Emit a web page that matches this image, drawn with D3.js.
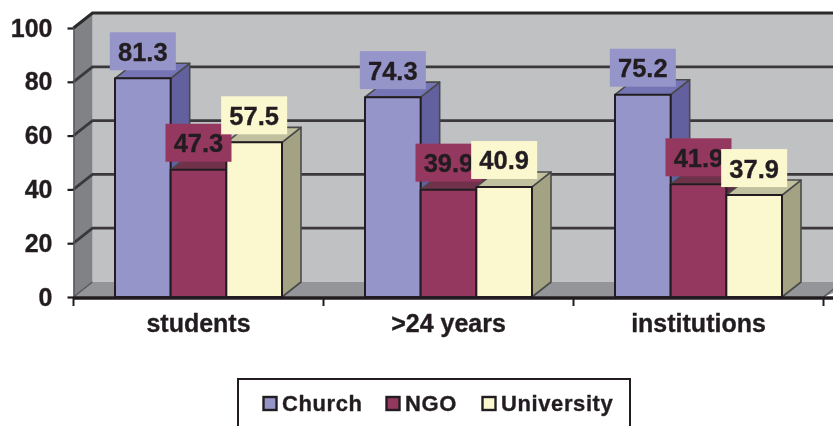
<!DOCTYPE html>
<html><head><meta charset="utf-8">
<script src="https://cdn.jsdelivr.net/npm/d3@7/dist/d3.min.js"></script>
<style>
html,body{margin:0;padding:0;background:#fff;overflow:hidden}
svg{display:block}
text{font-family:"Liberation Sans",Arial,sans-serif;font-weight:700;fill:#231f20;stroke:#231f20;stroke-width:0.35px}
</style></head><body>
<svg id="c" width="833" height="426"></svg>
<script>
const categories = ["students", ">24 years", "institutions"];
const seriesNames = ["Church", "NGO", "University"];
const church = [81.3, 74.3, 75.2];
const ngo = [47.3, 39.9, 41.9];
const university = [57.5, 40.9, 37.9];
const yTicks = [0, 20, 40, 60, 80, 100];
const frontColors = ["#9595c9", "#95375f", "#fbf8cf"];
const sideColors = ["#62619e", "#5f2a42", "#a3a384"];
const topColors = ["#7475b5", "#70304c", "#c1c1a0"];
const seriesValues = [church, ngo, university];

const svg = d3.select("#c");
svg.append("defs").append("filter").attr("id","soft").attr("x","-2%").attr("y","-2%").attr("width","104%").attr("height","104%")
  .append("feGaussianBlur").attr("stdDeviation",0.45);
const root = svg.append("g").attr("filter","url(#soft)");
root.append("rect").attr("width",833).attr("height",426).attr("fill","#fff");

const dx = 19, dy = -15;
const y = d3.scaleLinear().domain([0, 100]).range([297, 28]);
const x = d3.scaleBand().domain(categories).range([73.5, 823.5]);
const left = x.range()[0], right = x.range()[1];
const inner = d3.scaleBand().domain(seriesNames).range([-83.5, 83.5]);
const poly = pts => pts.map(p => p.join(",")).join(" ");
const dark = "#231f20";

// walls
root.append("polygon").attr("points", poly([[left+dx,y(100)+dy],[860,y(100)+dy],[860,y(0)+dy],[left+dx,y(0)+dy]])).attr("fill","#c0c1c3");
root.append("polygon").attr("points", poly([[left,y(100)],[left+dx,y(100)+dy],[left+dx,y(0)+dy],[left,y(0)]])).attr("fill","#808285");
root.append("polygon").attr("points", poly([[left,y(0)],[left+dx,y(0)+dy],[860,y(0)+dy],[right,y(0)]])).attr("fill","#939598");

// gridlines on back and side wall
yTicks.filter(t => t > 0).forEach(t => {
  root.append("polyline").attr("points", poly([[left,y(t)],[left+dx,y(t)+dy],[860,y(t)+dy]]))
    .attr("fill","none").attr("stroke",t===100?"#2b2a2b":"#3a393b").attr("stroke-width",t===100?3:2.8);
});
root.append("polyline").attr("points", poly([[left,y(0)],[left+dx,y(0)+dy]])).attr("fill","none").attr("stroke","#58595b").attr("stroke-width",1.5);
root.append("line").attr("x1",right).attr("y1",y(0)).attr("x2",right+dx).attr("y2",y(0)+dy).attr("stroke","#58595b").attr("stroke-width",1.5);

// bars
categories.forEach((c, ci) => {
  const cx = x(c) + x.bandwidth()/2;
  seriesNames.forEach((s, si) => {
    const v = seriesValues[si][ci];
    const x0 = cx + inner(s), x1 = x0 + inner.bandwidth(), yt = y(v), yb = y(0);
    const g = root.append("g").attr("stroke",dark).attr("stroke-width",2).attr("stroke-linejoin","round");
    g.append("polygon").attr("points", poly([[x1,yt],[x1+dx,yt+dy],[x1+dx,yb+dy],[x1,yb]])).attr("fill",sideColors[si]).attr("stroke","#4a4a4a").attr("stroke-width",1.6);
    g.append("polygon").attr("points", poly([[x0,yt],[x0+dx,yt+dy],[x1+dx,yt+dy],[x1,yt]])).attr("fill",topColors[si]).attr("stroke","#4a4a4a").attr("stroke-width",1.6);
    g.append("rect").attr("x",x0).attr("y",yt).attr("width",x1-x0).attr("height",yb-yt).attr("fill",frontColors[si]);
  });
});

// axes
const axL = root.append("g").attr("transform",`translate(${left},0)`)
  .call(d3.axisLeft(y).tickValues(yTicks).tickSize(6).tickPadding(15).tickSizeOuter(0));
axL.selectAll("text").style("font-size","25px");
axL.selectAll("line").attr("stroke",dark).attr("stroke-width",2.2);
axL.select(".domain").attr("stroke","#58595b").attr("stroke-width",1.5);

const axB = root.append("g").attr("transform",`translate(0,${y(0)})`)
  .call(d3.axisBottom(x).tickSize(0).tickPadding(17));
axB.selectAll("text").style("font-size","25px").attr("dy","0.71em");
axB.select(".domain").attr("stroke",dark).attr("stroke-width",3.4).attr("d",`M${left},1H${right+10}`);
[...categories.map(c => x(c)), right].forEach(t => {
  root.append("line").attr("x1",t).attr("x2",t).attr("y1",y(0)).attr("y2",y(0)+9).attr("stroke",dark).attr("stroke-width",2);
});

// data labels
categories.forEach((c, ci) => {
  const cx = x(c) + x.bandwidth()/2;
  seriesNames.forEach((s, si) => {
    const v = seriesValues[si][ci];
    const mid = cx + inner(s) + inner.bandwidth()/2;
    const yt = y(v);
    root.append("rect").attr("x",mid-33).attr("y",yt-46).attr("width",66).attr("height",38).attr("fill",frontColors[si]);
    root.append("text").attr("x",mid).attr("y",yt-17.5).attr("text-anchor","middle").style("font-size","25.5px").text(v.toFixed(1));
  });
});

// legend
root.append("rect").attr("x",238).attr("y",379).attr("width",392).attr("height",60).attr("fill","#fff").attr("stroke",dark).attr("stroke-width",2);
const legendX = d3.scaleOrdinal().domain(seriesNames).range([263, 386, 482]);
seriesNames.forEach((s, si) => {
  const lx = legendX(s);
  root.append("rect").attr("x",lx+0.5).attr("y",397).attr("width",13).attr("height",13).attr("fill",frontColors[si]).attr("stroke",dark).attr("stroke-width",2.4);
  root.append("text").attr("x",lx+19).attr("y",411).style("font-size","22px").style("letter-spacing","0.6px").text(s);
});
</script>
</body></html>
